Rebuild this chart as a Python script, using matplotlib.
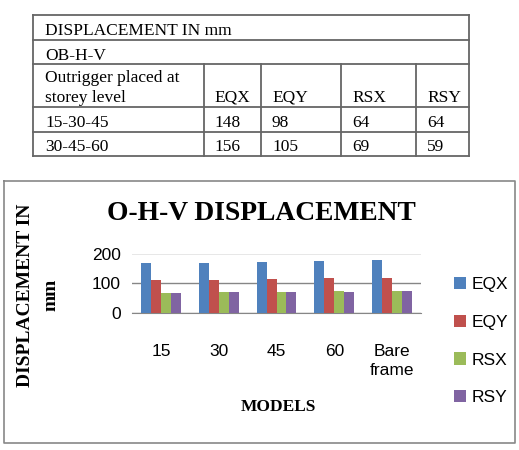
import matplotlib.pyplot as plt
import numpy as np

# table data
table_title = "DISPLACEMENT IN mm"
table_sub = "OB-H-V"
table_head = ["Outrigger placed at\nstorey level", "EQX", "EQY", "RSX", "RSY"]
table_rows = [["15-30-45", "148", "98", "64", "64"],
              ["30-45-60", "156", "105", "69", "59"]]

# chart data
models = ["15", "30", "45", "60", "Bare\nframe"]
series = ["EQX", "EQY", "RSX", "RSY"]
eqx = [168, 168, 171, 174, 177]
eqy = [111, 111, 115, 118, 118]
rsx = [68, 72, 72, 75, 75]
rsy = [68, 72, 72, 72, 75]
colors = ["#4F81BD", "#C0504D", "#9BBB59", "#8064A2"]

W, H = 519, 450
fig = plt.figure(figsize=(W / 100, H / 100), dpi=100)

# overlay in pixel coordinates for table and chart frame
ov = fig.add_axes([0, 0, 1, 1])
ov.set_xlim(0, W)
ov.set_ylim(H, 0)
ov.axis("off")

serif = "Liberation Serif"
lc = "#666666"
col_x = [33, 204, 261, 341, 416, 469]
row_y = [14.5, 39.5, 63.5, 106.5, 131.5, 156]

# outer and row lines
for y in row_y:
    ov.plot([col_x[0], col_x[-1]], [y, y], color=lc, lw=1.3)
for x in (col_x[0], col_x[-1]):
    ov.plot([x, x], [row_y[0], row_y[-1]], color=lc, lw=1.3)
for x in col_x[1:-1]:
    ov.plot([x, x], [row_y[2], row_y[-1]], color=lc, lw=1.3)

fs = 12.5
tx = [45, 214, 272, 352, 427]
ov.text(tx[0], 35, table_title, fontsize=fs, family=serif, va="baseline")
ov.text(tx[0], 60, table_sub, fontsize=fs, family=serif, va="baseline")
ov.text(tx[0], 82, "Outrigger placed at", fontsize=fs, family=serif, va="baseline")
ov.text(tx[0], 102, "storey level", fontsize=fs, family=serif, va="baseline")
for i, h in enumerate(table_head[1:]):
    ov.text(tx[i + 1], 102, h, fontsize=fs, family=serif, va="baseline")
for r, row in enumerate(table_rows):
    yb = [127, 151][r]
    for i, cell in enumerate(row):
        ov.text(tx[i], yb, cell, fontsize=fs, family=serif, va="baseline")

# chart frame
ov.plot([3.5, 515, 515, 3.5, 3.5], [180.5, 180.5, 442.5, 442.5, 180.5], color="#888888", lw=1.2)

ov.text(261, 213, "O-H-V DISPLACEMENT", fontsize=19.8, family=serif, weight="bold",
        ha="center", va="center")
ov.text(26, 295, "DISPLACEMENT IN", fontsize=14, family=serif, weight="bold",
        ha="center", va="center", rotation=90)
ov.text(51, 295, "mm", fontsize=14, family=serif, weight="bold",
        ha="center", va="center", rotation=90)
ov.text(278, 407, "MODELS", fontsize=12.5, family=serif, weight="bold",
        ha="center", va="center")

# bar chart
ax = fig.add_axes([132 / W, 1 - 313 / H, (421 - 132) / W, (313 - 253.5) / H])
x = np.arange(len(models))
bw = 0.173
for i, (name, vals) in enumerate(zip(series, [eqx, eqy, rsx, rsy])):
    ax.bar(x + (i - 1.5) * bw, vals, bw, color=colors[i], label=name, zorder=3)
ax.set_xlim(-0.5, len(models) - 0.5)
ax.set_ylim(0, 200)
ax.set_yticks([0, 100, 200])
ax.yaxis.grid(True, color="#868686", lw=1, zorder=0)
for s in ("top", "right", "left"):
    ax.spines[s].set_visible(False)
ax.spines["bottom"].set_color("#868686")
ax.tick_params(axis="both", length=0, labelsize=12.5)
ax.tick_params(axis="y", pad=8)
ax.tick_params(axis="x", pad=22)
ax.set_xticks(x)
ax.set_xticklabels(models, family="Liberation Sans", linespacing=1.4)
for lab in ax.get_yticklabels():
    lab.set_family("Liberation Sans")

leg = fig.legend(*ax.get_legend_handles_labels(), loc="upper left",
                 bbox_to_anchor=(447 / W, 1 - 270 / H), borderaxespad=0,
                 frameon=False, prop={"family": "Liberation Sans", "size": 12.5},
                 handlelength=0.7, handleheight=0.7, handletextpad=0.3, labelspacing=1.3)

fig.savefig("out.png", dpi=100)
